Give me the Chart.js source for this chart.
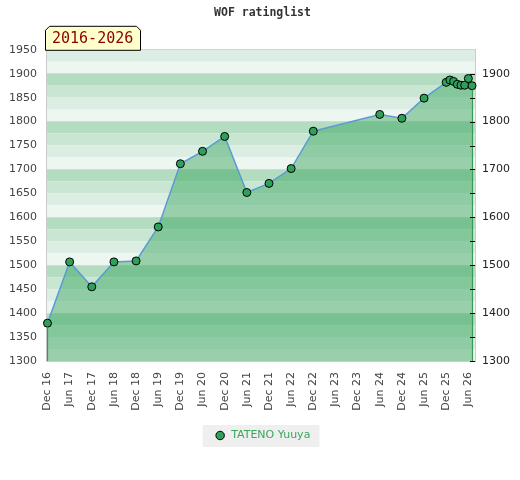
<!DOCTYPE html>
<html>
<head>
<meta charset="utf-8">
<script src="https://cdn.jsdelivr.net/npm/chart.js@4"></script>
<style>
  html, body { margin: 0; padding: 0; background: #fff; }
  #wrap { width: 520px; height: 480px; }
</style>
</head>
<body>
<div id="wrap"><canvas id="chart"></canvas></div>
<script>
// rating history (month, rating)
const dates = ['2016-12', '2017-06', '2017-12', '2018-06', '2018-12', '2019-06', '2019-12',
    '2020-06', '2020-12', '2021-06', '2021-12', '2022-06', '2022-12', '2024-06', '2024-12',
    '2025-06', '2025-12', '2026-01', '2026-02', '2026-03', '2026-04', '2026-05', '2026-06', '2026-07'];
const ratings = [1379, 1507, 1455, 1507, 1509, 1580, 1712, 1738, 1769, 1652, 1671, 1702, 1780,
    1815, 1807, 1849, 1882, 1887, 1884, 1878, 1876, 1876, 1890, 1875];

const tickMonths = ['2016-12', '2017-06', '2017-12', '2018-06', '2018-12', '2019-06', '2019-12',
    '2020-06', '2020-12', '2021-06', '2021-12', '2022-06', '2022-12', '2023-06', '2023-12',
    '2024-06', '2024-12', '2025-06', '2025-12', '2026-06'];
const tickLabels = ['Dec 16', 'Jun 17', 'Dec 17', 'Jun 18', 'Dec 18', 'Jun 19', 'Dec 19',
    'Jun 20', 'Dec 20', 'Jun 21', 'Dec 21', 'Jun 22', 'Dec 22', 'Jun 23', 'Dec 23',
    'Jun 24', 'Dec 24', 'Jun 25', 'Dec 25', 'Jun 26'];

const playerName = 'TATENO Yuuya';
const chartTitle = 'WOF ratinglist';
const periodLabel = '2016-2026';

// months counted from Dec 2016
function monthIndex(s) {
    const [y, m] = s.split('-').map(Number);
    return (y - 2016) * 12 + (m - 12);
}

const points = dates.map((d, i) => ({ x: monthIndex(d), y: ratings[i] }));

// striped background, 4 stripes per 100 points
const bandColors = ['#b3dcc1', '#c9e6d3', '#dcede3', '#eef6f1'];
const bandsPlugin = {
    id: 'bands',
    beforeDraw: (chart) => {
        const { ctx, chartArea: a, scales: { y } } = chart;
        ctx.save();
        for (let v = y.max; v > y.min; v -= 25) {
            const top = y.getPixelForValue(v);
            const bot = y.getPixelForValue(v - 25);
            ctx.fillStyle = bandColors[Math.floor(((2000 - v) % 100) / 25)];
            ctx.fillRect(a.left, top, a.right - a.left, bot - top);
        }
        // grey box behind legend item
        const hb = chart.legend && chart.legend.legendHitBoxes[0];
        if (hb) {
            ctx.fillStyle = '#efefef';
            ctx.fillRect(hb.left - 12, hb.top - 5, hb.width + 21, hb.height + 11);
        }
        ctx.restore();
    }
};

const edgesPlugin = {
    id: 'edges',
    afterDatasetsDraw: (chart) => {
        const { ctx, chartArea: a } = chart;
        const meta = chart.getDatasetMeta(0);
        const first = meta.data[0];
        const last = meta.data[meta.data.length - 1];
        ctx.save();
        ctx.strokeStyle = '#3a9a55';
        ctx.lineWidth = 1.2;
        [first, last].forEach(p => {
            ctx.beginPath();
            ctx.moveTo(Math.round(p.x) + 0.5, p.y + 4);
            ctx.lineTo(Math.round(p.x) + 0.5, a.bottom);
            ctx.stroke();
        });
        // inner tick marks of the right axis
        const y2 = chart.scales.y2;
        ctx.strokeStyle = '#000';
        ctx.lineWidth = 1;
        y2.ticks.forEach(t => {
            if (t.value >= y2.max) return;
            const py = Math.round(y2.getPixelForValue(t.value)) + 0.5;
            ctx.beginPath();
            ctx.moveTo(a.right - 5, py);
            ctx.lineTo(a.right, py);
            ctx.stroke();
        });
        ctx.restore();
    }
};

const periodPlugin = {
    id: 'period',
    afterDraw: (chart) => {
        const { ctx, chartArea: a } = chart;
        const x0 = a.left - 0.5, x1 = a.left + 94.5;
        const y0 = a.top - 23.5, y1 = a.top + 0.5, c = 4;
        ctx.save();
        ctx.beginPath();
        ctx.moveTo(x0, y1);
        ctx.lineTo(x0, y0 + c);
        ctx.lineTo(x0 + c, y0);
        ctx.lineTo(x1 - c, y0);
        ctx.lineTo(x1, y0 + c);
        ctx.lineTo(x1, y1);
        ctx.closePath();
        ctx.fillStyle = '#ffffcc';
        ctx.fill();
        ctx.strokeStyle = '#000';
        ctx.lineWidth = 1;
        ctx.stroke();
        ctx.fillStyle = '#8b0000';
        ctx.font = '15px "DejaVu Sans Mono", monospace';
        ctx.textBaseline = 'middle';
        ctx.fillText(periodLabel, x0 + 6.5, (y0 + y1) / 2 + 1);
        ctx.restore();
    }
};

const ctx = document.getElementById('chart');
const myChart = new Chart(ctx, {
    type: 'line',
    data: {
        datasets: [{
            label: playerName,
            data: points,
            borderColor: '#5b9bd5',
            borderWidth: 1.5,
            backgroundColor: 'rgba(48, 162, 86, 0.45)',
            fill: 'start',
            tension: 0,
            pointRadius: 4,
            pointBackgroundColor: '#2fa05a',
            pointBorderColor: '#000',
            pointBorderWidth: 1,
            clip: false,
        }],
    },
    options: {
        responsive: true,
        maintainAspectRatio: false,
        animation: false,
        layout: { padding: { left: 10, right: 5, top: 0, bottom: 29 } },
        scales: {
            x: {
                type: 'linear',
                min: -0.4,
                max: 115.8,
                afterBuildTicks: (scale) => {
                    scale.ticks = tickMonths.map(m => ({ value: monthIndex(m) }));
                },
                afterFit: (scale) => { scale.height = 59; },
                ticks: {
                    autoSkip: false,
                    minRotation: 90,
                    maxRotation: 90,
                    padding: 11,
                    color: '#444',
                    font: { family: 'DejaVu Sans', size: 11 },
                    callback: (v, i) => tickLabels[i],
                },
                grid: { display: false, drawTicks: false },
                border: { color: '#ccc' },
            },
            y: {
                position: 'left',
                min: 1300,
                max: 1950,
                afterFit: (scale) => { scale.width = 36; },
                ticks: {
                    stepSize: 50,
                    padding: 9,
                    color: '#444',
                    font: { family: 'DejaVu Sans', size: 11 },
                    callback: (v) => String(v),
                },
                grid: {
                    drawTicks: false,
                    color: (c) => (c.tick && (c.tick.value % 100 === 0 || c.tick.value === 1950)) ? '#d6d6d6' : 'rgba(0,0,0,0)',
                },
                border: { color: '#ccc' },
            },
            y2: {
                position: 'right',
                min: 1300,
                max: 1950,
                afterFit: (scale) => { scale.width = 40; },
                ticks: {
                    stepSize: 50,
                    padding: 7,
                    color: '#222',
                    font: { family: 'DejaVu Sans', size: 11 },
                    callback: (v) => (v % 100 === 0 ? String(v) : ''),
                },
                grid: { display: false, drawTicks: false },
                border: { color: '#ccc' },
            },
        },
        plugins: {
            title: {
                display: true,
                text: chartTitle,
                color: '#333',
                font: { family: 'DejaVu Sans Mono', size: 11.5, weight: 'bold' },
                padding: { top: 6, bottom: 30 },
            },
            legend: {
                position: 'bottom',
                labels: {
                    usePointStyle: true,
                    pointStyle: 'circle',
                    boxHeight: 6,
                    boxWidth: 11,
                    padding: 10,
                    color: '#3aa65e',
                    font: { family: 'DejaVu Sans', size: 11 },
                    generateLabels: (chart) => Chart.defaults.plugins.legend.labels.generateLabels(chart)
                        .map(l => ({ ...l, fillStyle: '#2fa05a', strokeStyle: '#000', lineWidth: 1 })),
                },
            },
            tooltip: { enabled: false },
        },
    },
    plugins: [bandsPlugin, edgesPlugin, periodPlugin],
});
</script>
</body>
</html>
